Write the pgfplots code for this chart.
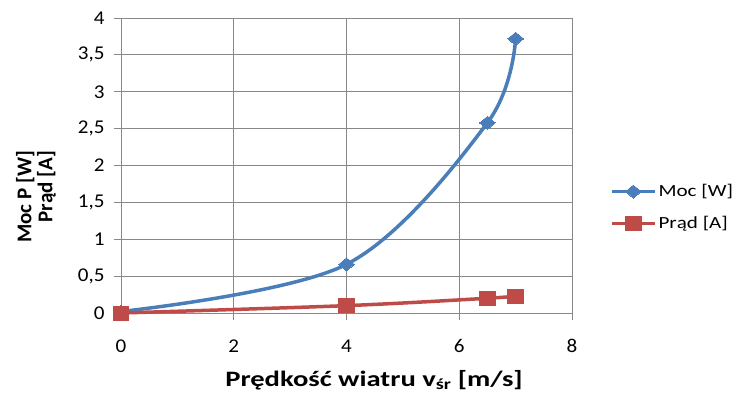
\documentclass[border=0pt]{standalone}
\usepackage{pgfplots}
\pgfplotsset{compat=1.18}
\usepackage{fontspec}
\setmainfont{Carlito}
\newfontfamily\tickfont[FakeStretch=1.08]{Carlito}
\newfontfamily\legfont[FakeStretch=1.24]{Carlito}
\newfontfamily\xlabfont[FakeStretch=1.3]{Carlito}
\newfontfamily\ylabfont{Carlito}

\definecolor{mocblue}{HTML}{4A7EBB}
\definecolor{pradred}{HTML}{BE4B48}
\definecolor{gridgray}{HTML}{888888}

\begin{document}
\begin{tikzpicture}
\useasboundingbox (-121pt,-79pt) rectangle (612pt,313pt);
\begin{axis}[
  scale only axis,
  width=451pt, height=295pt,
  xmin=0, xmax=8, ymin=0, ymax=4,
  xtick={0,2,4,6,8},
  ytick={0,0.5,1,1.5,2,2.5,3,3.5,4},
  grid=major,
  major grid style={gridgray, line width=0.9pt},
  axis line style={gridgray, line width=0.9pt},
  axis lines*=left,
  tick style={gridgray, line width=0.9pt},
  tick align=outside,
  major tick length=7pt,
  xtick pos=bottom, ytick pos=left,
  clip=false,
  /pgf/number format/use comma,
  /pgf/number format/assume math mode=true,
  tick label style={font=\tickfont\fontsize{19.5}{22}\selectfont, black},
  xticklabel style={yshift=-16pt},
  yticklabel style={xshift=-6pt},
  xlabel={\xlabfont\bfseries Prędkość wiatru v\textsubscript{śr} [m/s]},
  ylabel={\ylabfont\bfseries\begin{tabular}{r}Moc P [W]\\[-1pt]Prąd [A]\end{tabular}},
  xlabel style={font=\fontsize{22}{24}\selectfont,
    at={(axis description cs:0.561,-0.248)}, anchor=base},
  ylabel style={font=\fontsize{21}{22}\selectfont,
    at={(axis description cs:-0.185,0.394)}, anchor=center},
  legend style={draw=none, fill=none, at={(axis description cs:1.084,0.358)}, anchor=west,
    font=\legfont\fontsize{17}{20}\selectfont, row sep=14pt, inner xsep=0pt, inner ysep=0pt},
  legend cell align=left,
  legend image code/.code={
    \draw[mark repeat=2, mark phase=2] plot coordinates {(0pt,0pt) (21.5pt,0pt) (43pt,0pt)};
  },
]
\addplot[mocblue, line width=3.5pt, smooth, tension=0.55,
  mark=diamond*, mark size=6.5pt, mark options={solid, line width=0pt, xscale=1.6}]
  coordinates {(0,0.02) (4,0.66) (6.5,2.58) (7,3.72)};
\addlegendentry{Moc [W]}
\addplot[pradred, line width=3.5pt, smooth, tension=0.55,
  mark=square*, mark size=7pt, mark options={solid, line width=0pt, xscale=1.12}]
  coordinates {(0,0) (4,0.1) (6.5,0.2) (7,0.23)};
\addlegendentry{Prąd [A]}
\end{axis}
\end{tikzpicture}
\end{document}
